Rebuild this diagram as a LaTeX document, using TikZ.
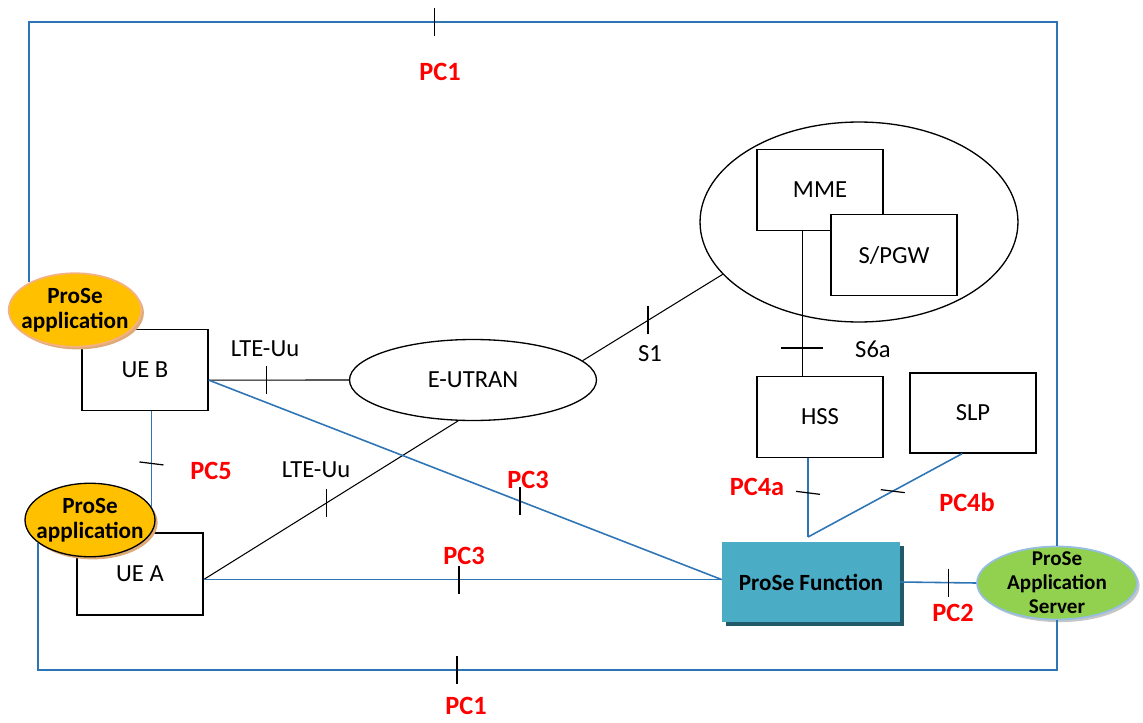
\documentclass[tikz,border=0pt]{standalone}
\usepackage{fontspec}
\setmainfont{Carlito}
\usetikzlibrary{shapes.geometric,shadows}
\usetikzlibrary{decorations,decorations.markings}

\definecolor{linkblue}{RGB}{46,117,182}
\definecolor{appyellow}{RGB}{255,192,0}
\definecolor{apptan}{RGB}{222,170,120}
\definecolor{apprim}{RGB}{244,177,131}
\definecolor{pfteal}{RGB}{75,172,198}
\definecolor{pfshadow}{RGB}{33,89,104}
\definecolor{asgreen}{RGB}{146,208,80}
\definecolor{asrim}{RGB}{150,190,225}

\begin{document}
\begin{tikzpicture}[x=0.02cm,y=-0.02cm]
	\useasboundingbox (0,0) rectangle (1143,723);

	\tikzset{netbox/.style={draw,fill=white,line width=0.75pt,minimum width=2.52cm,
			minimum height=1.62cm,inner sep=0,font=\fontsize{14}{16}\selectfont}}
	\tikzset{cloud/.style={ellipse,draw,fill=white,line width=0.75pt,inner sep=0,
			font=\fontsize{14}{16}\selectfont}}
	\tikzset{apptext/.style={align=center,font=\bfseries\fontsize{13.2}{14.5}\selectfont}}
	\tikzset{app/.style={ellipse,fill=appyellow,inner sep=0,minimum width=2.65cm,
			minimum height=1.47cm,general shadow={shadow xshift=1.5pt,shadow yshift=-1.5pt,fill=apptan}}}
	\tikzset{link/.style={linkblue,line width=0.9pt}}
	\tikzset{frame/.style={linkblue,line width=1.1pt}}
	\tikzset{wire/.style={black,line width=0.6pt}}
	\tikzset{tickline/.style={black,line width=0.7pt}}
	\tikzset{pclabel/.style={text=red,font=\bfseries\fontsize{15}{17}\selectfont}}
	\tikzset{iflabel/.style={font=\fontsize{14}{16}\selectfont}}

	% interface marks, kept upright whatever the line does
	\tikzset{vtick/.style={decoration={markings,mark=at position #1 with
				{\pgftransformresetnontranslations\draw[tickline] (0,-14) -- (0,14);}},postaction={decorate}}}
	\tikzset{htick/.style={decoration={markings,mark=at position #1 with
				{\pgftransformresetnontranslations\draw[tickline] (-12,-1.5) -- (12,1.5);}},postaction={decorate}}}
	\tikzset{ltick/.style={decoration={markings,mark=at position #1 with
				{\pgftransformresetnontranslations\draw[tickline] (-21,0) -- (21,0);}},postaction={decorate}}}

	% UEs
	\node[netbox] (ueB) at (145,370) {UE B};
	\node[netbox,minimum height=1.64cm] (ueA) at (140,574) {UE A};
	\node[app,draw=apprim,line width=1pt,label={[apptext]center:{ProSe\\application}}] (appB) at (75,310) {};
	\node[app,draw=black,line width=0.75pt,minimum width=2.6cm,
		label={[apptext]center:{ProSe\\application}}] (appA) at (90,520) {};

	% network side
	\node[cloud,minimum width=4.94cm,minimum height=1.62cm] (eutran) at (473,380) {E-UTRAN};
	\node[cloud,minimum width=6.36cm,minimum height=4cm] (core) at (859,222) {};
	\node[netbox] (mme) at (820,190) {MME};
	\node[netbox] (spgw) at (894,255) {S/PGW};
	\node[netbox] (hss) at (820,417) {HSS};
	\node[netbox,minimum height=1.6cm] (slp) at (973,413) {SLP};

	\node[fill=pfteal,minimum width=3.56cm,minimum height=1.6cm,inner sep=0,
		general shadow={shadow xshift=2pt,shadow yshift=-2pt,fill=pfshadow},
		font=\bfseries\fontsize{13.2}{15}\selectfont] (pcf) at (811,582) {ProSe Function};
	\node[ellipse,fill=asgreen,draw=asrim,line width=1pt,inner sep=0,
		minimum width=3.2cm,minimum height=1.46cm,
		general shadow={shadow xshift=1.5pt,shadow yshift=-1.5pt,fill=gray!45},
		label={[align=center,font=\bfseries\fontsize{12}{13.6}\selectfont]center:{ProSe\\Application\\Server}}]
		(as) at (1057,583) {};

	% PC1 round the whole picture
	\coordinate (ctr) at (1057,22);
	\coordinate (cbr) at (1057,670);
	\draw[frame,vtick=0.3675] (appB.149) |- (ctr) -- (as.north);
	\draw[frame,vtick=0.4565] (appA.204) |- (cbr) -- (as.south);

	\draw[link,htick=0.546] (appA.12 |- ueB.south) -- (appA.12);

	\draw[wire,vtick=0.41] (ueB.-9) -- (eutran.west);
	\draw[wire,vtick=0.482] (ueA.-5) -- (eutran.250);
	\draw[wire,vtick=0.468] (eutran.10) -- (core.201);
	\draw[wire,ltick=0.808] ([xshift=-10pt]mme.south) -- ([xshift=-10pt]hss.north);

	\draw[link,vtick=0.493] (ueA.-5) -- (ueA.-5 -| pcf.west);
	\draw[link,vtick=0.607] (ueB.-9) -- (ueA.-5 -| pcf.west);

	\coordinate (pc4v) at (808,537);
	\draw[link,htick=0.44] (hss.south -| pc4v) -- (pc4v);
	\draw[link,htick=0.45] (slp.255) -- (pc4v);

	\draw[link,vtick=0.64] (pcf.east) -- (as.west);

	\node[pclabel] (lpc1a) at (440,72) {PC1};
	\node[pclabel] (lpc1b) at (466,706) {PC1};
	\node[pclabel] (lpc5) at (211,471) {PC5};
	\node[pclabel] (lpc3a) at (528,480) {PC3};
	\node[pclabel] (lpc3b) at (464,556) {PC3};
	\node[pclabel] (lpc4a) at (757,487) {PC4a};
	\node[pclabel] (lpc4b) at (967,502) {PC4b};
	\node[pclabel] (lpc2) at (953,613) {PC2};
	\node[iflabel] (luu1) at (265,349) {LTE-Uu};
	\node[iflabel] (luu2) at (316,470) {LTE-Uu};
	\node[iflabel] (ls1) at (650,354) {S1};
	\node[iflabel] (ls6a) at (873,349) {S6a};
\end{tikzpicture}
\end{document}
